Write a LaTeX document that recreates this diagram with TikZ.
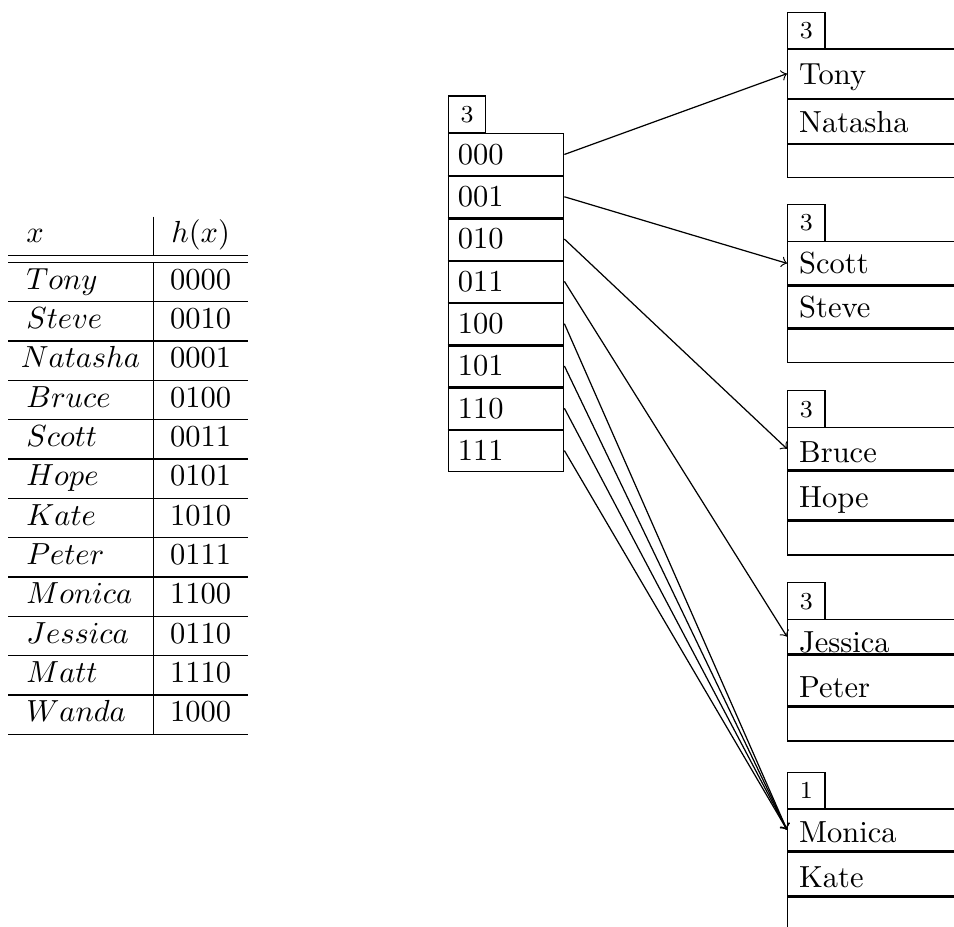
\documentclass[tikz,border=0pt]{standalone}
\usetikzlibrary{fit}
\begin{document}
\begin{tikzpicture}[x=0.32787pt, y=-0.32787pt,
  rule/.style={line width=0.4pt},
  cell/.style={draw, inner sep=0pt, line width=0.45pt},
  sep/.style={line width=0.75pt},
  small/.style={draw, inner sep=0pt, outer sep=0pt, line width=0.45pt, font=\footnotesize,
    minimum width=12.25pt, minimum height=12.1pt, anchor=north west},
  txt/.style={inner sep=0pt, anchor=base west},
  num/.style={inner sep=0pt, anchor=base},
  link/.style={->, line width=0.4pt}]
\useasboundingbox (0,0) rectangle (954,927);
\clip (0,0) rectangle (954,927);

% ---------------- table ----------------
\draw[rule] (8.3,255.7) -- (248,255.7);
\draw[rule] (8.3,262.3) -- (248,262.3);
\foreach \k in {1,...,12} {
  \draw[rule] (8.3,{262.3+\k*39.33}) -- (248,{262.3+\k*39.33});
}
\draw[rule] (153.3,216.7) -- (153.3,255.7);
\draw[rule] (153.3,262.3) -- (153.3,734.3);
\node[txt] (hx) at (25.8,242.5) {$x$};
\node[num] (hh) at (200.65,242.5) {$h(x)$};
\foreach \nm/\hv/\xo [count=\i from 0] in {Tony/0000/25.8,Steve/0010/25.8,Natasha/0001/20.3,Bruce/0100/25.8,Scott/0011/25.8,Hope/0101/25.8,Kate/1010/25.8,Peter/0111/25.8,Monica/1100/25.8,Jessica/0110/25.8,Matt/1110/25.8,Wanda/1000/25.8} {
  \node[txt] (n\nm) at (\xo,{289.1+\i*39.33}) {$\nm$};
  \node[num] (h\nm) at (200.65,{289.1+\i*39.33}) {\hv};
}

% ---------------- directory ----------------
\node[small] (gd) at (448.3,96) {3};
\foreach \lab [count=\i from 0] in {000,001,010,011,100,101,110,111} {
  \node[cell, fit={(448.3,{133.3+\i*42.3}) (563.7,{133.3+(\i+1)*42.3})}] (d\lab) {};
  \node[inner sep=0pt, anchor=west] (t\lab) at (457.2,{154.45+\i*42.3}) {\lab};
}
\foreach \lab in {000,001,010,011,100,101,110} {
  \draw[sep] (d\lab.south west) -- (d\lab.south east);
}

% ---------------- buckets ----------------
% bucket 1
\node[small] (ld1) at (787.7,12.3) {3};
\node[cell, fit={(787.7,49) (1200,98.3)}] (cTony) {};
\node[cell, fit={(787.7,98.3) (1200,143.3)}] (cNatasha) {};
\node[cell, fit={(787.7,143.3) (1200,177.7)}] (cE1) {};
\node[txt] (tTony) at (798.6,84) {Tony};
\node[txt] (tNatasha) at (798.6,132.5) {Natasha};
% bucket 2
\node[small] (ld2) at (787.7,204.3) {3};
\node[cell, fit={(787.7,241.7) (1200,285)}] (cScott) {};
\node[cell, fit={(787.7,285) (1200,327.7)}] (cSteve) {};
\node[cell, fit={(787.7,327.7) (1200,362.7)}] (cE2) {};
\node[txt] (tScott) at (798.6,273.5) {Scott};
\node[txt] (tSteve) at (798.6,317.5) {Steve};
% bucket 3
\node[small] (ld3) at (787.7,390.7) {3};
\node[cell, fit={(787.7,427.7) (1200,470)}] (cBruce) {};
\node[cell, fit={(787.7,470) (1200,520)}] (cHope) {};
\node[cell, fit={(787.7,520) (1200,555)}] (cE3) {};
\node[txt] (tBruce) at (798.6,462.5) {Bruce};
\node[txt] (tHope) at (798.6,507.5) {Hope};
% bucket 4
\node[small] (ld4) at (787.7,582.7) {3};
\node[cell, fit={(787.7,619.3) (1200,654)}] (cJessica) {};
\node[cell, fit={(787.7,654) (1200,705.7)}] (cPeter) {};
\node[cell, fit={(787.7,705.7) (1200,741)}] (cE4) {};
\node[txt] (tJessica) at (798.6,652.5) {Jessica};
\node[txt] (tPeter) at (798.6,697.5) {Peter};
% bucket 5
\node[small] (ld5) at (787.7,772.3) {1};
\node[cell, fit={(787.7,809) (1200,850.7)}] (cMonica) {};
\node[cell, fit={(787.7,850.7) (1200,895.7)}] (cKate) {};
\node[cell, fit={(787.7,895.7) (1200,940)}] (cE5) {};
\node[txt] (tMonica) at (798.6,842.5) {Monica};
\node[txt] (tKate) at (798.6,887.5) {Kate};

\foreach \c in {Tony,Natasha,Scott,Steve,Bruce,Hope,Jessica,Peter,Monica,Kate} {
  \draw[sep] (c\c.south west) -- (c\c.south east);
}

% ---------------- pointers ----------------
\draw[link] (d000.east) -- (cTony.west);
\draw[link] (d001.east) -- (cScott.west);
\draw[link] (d010.east) -- (cBruce.west);
\draw[link] (d011.east) -- (cJessica.west);
\draw[link] (d100.east) -- (cMonica.west);
\draw[link] (d101.east) -- (cMonica.west);
\draw[link] (d110.east) -- (cMonica.west);
\draw[link] (d111.east) -- (cMonica.west);
\end{tikzpicture}
\end{document}
